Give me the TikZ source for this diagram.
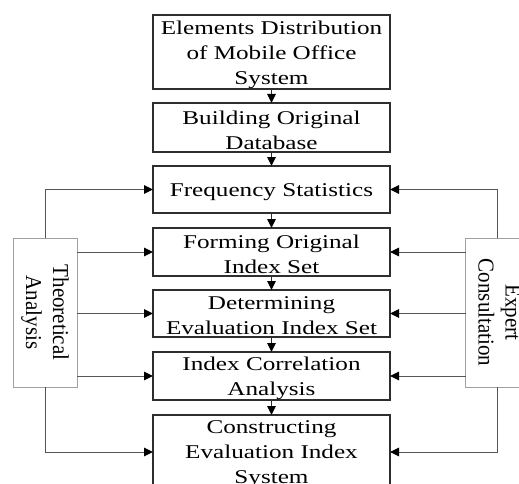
\documentclass[tikz,border=0pt]{standalone}
\usepackage{fontspec}
\usepackage{graphicx}
\setmainfont{Liberation Serif}
\newfontfamily\boxfont[FakeStretch=1.29]{Liberation Serif}
\usetikzlibrary{arrows.meta}
\definecolor{boxline}{HTML}{2E2E2E}
\definecolor{sideline}{HTML}{A0A0A0}
\definecolor{linkline}{HTML}{555555}
% rotated two-line label for the side boxes
\newcommand\sidetext[2]{\rotatebox{-90}{\scalebox{1}[1.08]{\fontsize{21}{25}\selectfont\begin{tabular}{@{}c@{}}#1\\#2\end{tabular}}}}
\begin{document}
\begin{tikzpicture}[x=1pt,y=-1pt,
  stepbox/.style={draw=boxline, line width=1.3pt, minimum width=237pt, inner sep=0pt, outer sep=0pt},
  steptext/.style={align=center, inner sep=0pt, yshift=-2.5pt, font=\boxfont\fontsize{19.5}{25}\selectfont},
  sidebox/.style={draw=sideline, line width=0.9pt, minimum width=64pt, minimum height=149pt,
    inner sep=0pt, outer sep=0pt},
  down/.style={draw=boxline, line width=1.1pt, -{Triangle[length=9pt,width=8.5pt,color=black]}},
  link/.style={draw=linkline, line width=1pt, -{Triangle[length=9pt,width=8.5pt,color=black]}}]
\useasboundingbox (0,0) rectangle (519,484);
\clip (0,0) rectangle (519,484);
\fill[white] (0,0) rectangle (519,484);

% main chain
\node[stepbox, minimum height=74pt, label={[steptext]center:{Elements Distribution\\of Mobile Office\\System}}] (b1) at (271.5,52) {};
\node[stepbox, minimum height=49pt, label={[steptext]center:{Building Original\\Database}}] (b2) at (271.5,127.5) {};
\node[stepbox, minimum height=47pt, label={[steptext]center:{Frequency Statistics}}] (b3) at (271.5,189.5) {};
\node[stepbox, minimum height=48pt, label={[steptext]center:{Forming Original\\Index Set}}] (b4) at (271.5,252) {};
\node[stepbox, minimum height=47pt, label={[steptext]center:{Determining\\Evaluation Index Set}}] (b5) at (271.5,313.5) {};
\node[stepbox, minimum height=48pt, label={[steptext]center:{Index Correlation\\Analysis}}] (b6) at (271.5,376) {};
\node[stepbox, minimum height=74pt, label={[steptext]center:{Constructing\\Evaluation Index\\System}}] (b7) at (271.5,452) {};

\draw[down] (b1) -- (b2);
\draw[down] (b2) -- (b3);
\draw[down] (b3) -- (b4);
\draw[down] (b4) -- (b5);
\draw[down] (b5) -- (b6);
\draw[down] (b6) -- (b7);

% side inputs
\node[sidebox] (ta) at (45,312.5) {\sidetext{Theoretical}{Analysis}};
\node[sidebox] (ec) at (497.5,312.5) {\sidetext{Expert}{Consultation}};

\draw[link] (ta.north) |- (b3.west);
\draw[link] (ta.east |- b4) -- (b4.west);
\draw[link] (ta.east |- b5) -- (b5.west);
\draw[link] (ta.east |- b6) -- (b6.west);
\draw[link] (ta.south) |- (b7.west);

\draw[link] (ec.north) |- (b3.east);
\draw[link] (ec.west |- b4) -- (b4.east);
\draw[link] (ec.west |- b5) -- (b5.east);
\draw[link] (ec.west |- b6) -- (b6.east);
\draw[link] (ec.south) |- (b7.east);
\end{tikzpicture}
\end{document}
